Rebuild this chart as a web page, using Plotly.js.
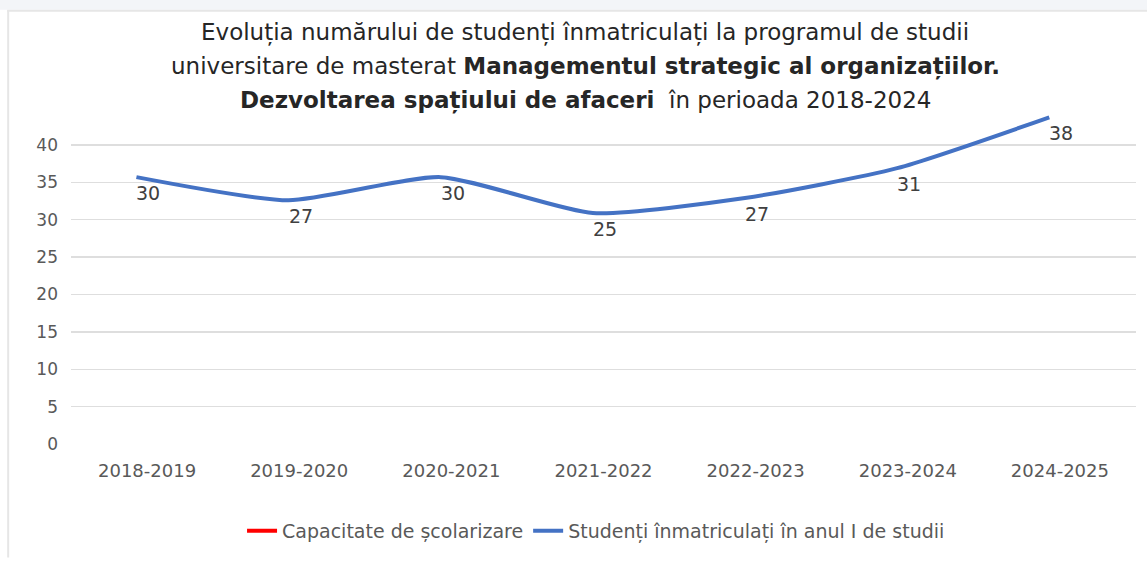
<!DOCTYPE html>
<html>
<head>
<meta charset="utf-8">
<script src="https://cdn.plot.ly/plotly-3.0.1.min.js"></script>
<style>
  html, body { margin: 0; padding: 0; background: #ffffff; }
  #chart { width: 1147px; height: 561px; }
</style>
</head>
<body>
<div id="chart"></div>
<script>
// Categories (academic years)
const years = ["2018-2019", "2019-2020", "2020-2021", "2021-2022", "2022-2023", "2023-2024", "2024-2025"];
// Data labels shown on the chart (students enrolled in year I)
const studentLabels = [30, 27, 30, 25, 27, 31, 38];
const lineLevels = [35.7, 32.6, 35.7, 30.9, 32.9, 36.9, 43.7];
// Capacity series appears only in the legend (no visible line)
const capacity = [null, null, null, null, null, null, null];
// Y-axis tick values
const yTicks = [0, 5, 10, 15, 20, 25, 30, 35, 40];

const FONT = "DejaVu Sans, Open Sans, sans-serif";
const idx = years.map((_, i) => i);

const traces = [
  {
    x: years, y: capacity, name: "Capacitate de școlarizare",
    type: "scatter", mode: "lines",
    line: { color: "#ff0000", width: 4 },
    hoverinfo: "skip"
  },
  {
    x: idx, y: lineLevels, xaxis: "x2", name: "Studenți înmatriculați în anul I de studii",
    type: "scatter", mode: "lines",
    line: { color: "#4472c4", width: 4, shape: "spline", smoothing: 0.6 },
    cliponaxis: false
  }
];

const labelAnnotations = idx.map(i => ({
  xref: "x2", yref: "y", x: idx[i], y: lineLevels[i],
  text: String(studentLabels[i]), showarrow: false,
  xanchor: "left", yanchor: "middle", xshift: -2, yshift: -16,
  font: { family: FONT, size: 19, color: "#404040" }
}));

const titleFont = { family: FONT, size: 23, color: "#262626" };

const layout = {
  width: 1147, height: 561,
  margin: { l: 71, r: 11, t: 110, b: 117 },
  paper_bgcolor: "rgba(0,0,0,0)",
  plot_bgcolor: "rgba(0,0,0,0)",
  showlegend: true,
  legend: {
    orientation: "h", x: 0.493, xanchor: "center", y: -0.26, yanchor: "middle",
    font: { family: FONT, size: 19, color: "#595959" },
    itemwidth: 30, traceorder: "normal"
  },
  xaxis: {
    type: "category", range: [-0.5, 6.5],
    showgrid: false, zeroline: false, showline: false, ticks: "",
    tickfont: { family: FONT, size: 18, color: "#595959" },
    ticklabelstandoff: 14, fixedrange: true
  },
  xaxis2: {
    overlaying: "x", range: [-0.43, 6.57], visible: false, fixedrange: true
  },
  yaxis: {
    range: [0, 44.68], tickvals: yTicks, ticktext: yTicks.map(String),
    showgrid: true, gridcolor: "#dedede", gridwidth: 1.5,
    zeroline: false, showline: false, ticks: "",
    tickfont: { family: FONT, size: 17, color: "#595959" },
    ticklabelstandoff: 12, fixedrange: true
  },
  shapes: [
    { type: "rect", xref: "paper", yref: "paper", x0: -0.1, x1: 1.02, y0: 1.3, y1: 1.4,
      fillcolor: "#f3f5f8", line: { width: 0 }, layer: "below" },
    { type: "line", xref: "paper", yref: "paper", x0: -0.06, x1: 1.02, y0: 1.297, y1: 1.297,
      line: { color: "#e6e6e6", width: 2 } },
    { type: "line", xref: "paper", yref: "paper", x0: -0.059, x1: -0.059, y0: 1.297, y1: -0.34,
      line: { color: "#e6e6e6", width: 2 } }
  ],
  annotations: [
    { text: "Evoluția numărului de studenți înmatriculați la programul de studii",
      xref: "paper", yref: "paper", x: 0.483, y: 1.2335, xanchor: "center", yanchor: "middle",
      showarrow: false, font: titleFont },
    { text: "universitare de masterat <b>Managementul strategic al organizațiilor.</b>",
      xref: "paper", yref: "paper", x: 0.483, y: 1.1317, xanchor: "center", yanchor: "middle",
      showarrow: false, font: titleFont },
    { text: "<b>Dezvoltarea spațiului de afaceri</b>  în perioada 2018-2024",
      xref: "paper", yref: "paper", x: 0.483, y: 1.027, xanchor: "center", yanchor: "middle",
      showarrow: false, font: titleFont }
  ].concat(labelAnnotations)
};

Plotly.newPlot("chart", traces, layout, { displayModeBar: false, staticPlot: true });
</script>
</body>
</html>
